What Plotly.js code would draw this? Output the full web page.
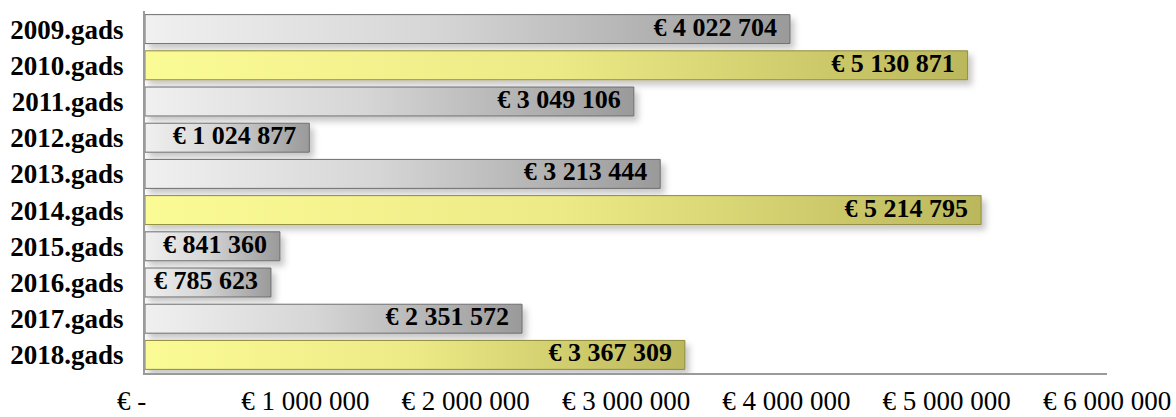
<!DOCTYPE html>
<html>
<head>
<meta charset="utf-8">
<script src="https://cdn.plot.ly/plotly-3.0.1.min.js"></script>
<style>
html,body{margin:0;padding:0;background:#fff;}
#chart{width:1176px;height:417px;}
</style>
</head>
<body>
<div id="chart"></div>
<script>
const years = ["2009.gads","2010.gads","2011.gads","2012.gads","2013.gads","2014.gads","2015.gads","2016.gads","2017.gads","2018.gads"];
const amounts = [4022704, 5130871, 3049106, 1024877, 3213444, 5214795, 841360, 785623, 2351572, 3367309];
const highlighted = [false, true, false, false, false, true, false, false, false, true];
const tickValues = [0, 1000000, 2000000, 3000000, 4000000, 5000000, 6000000];
const tickLabels = ["€ -\u00a0\u00a0\u00a0\u00a0", "€ 1 000 000", "€ 2 000 000", "€ 3 000 000", "€ 4 000 000", "€ 5 000 000", "€ 6 000 000"];

const SERIF = '"Liberation Serif", "Times New Roman", Times, serif';
function fmt(v){ return "€ " + String(v).replace(/\B(?=(\d{3})+(?!\d))/g, " ") + "\u00a0\u00a0"; }

const bars = {
  type: "bar",
  orientation: "h",
  y: years,
  x: amounts,
  marker: {
    color: highlighted.map(h => h ? "#e6e47a" : "#c4c4c4"),
    line: {color: highlighted.map(h => h ? "#8f8b3a" : "#6e6e6e"), width: 1}
  },
  hoverinfo: "none"
};

const labels = {
  type: "scatter",
  mode: "text",
  y: years,
  x: amounts,
  text: amounts.map(fmt),
  textposition: "middle left",
  textfont: {family: SERIF, size: 26, color: "#000", weight: "bold"},
  cliponaxis: false,
  hoverinfo: "none"
};

const layout = {
  width: 1176, height: 417,
  margin: {l: 145, r: 69, t: 11, b: 44},
  paper_bgcolor: "#fff", plot_bgcolor: "#fff",
  bargap: 0.2,
  showlegend: false,
  xaxis: {
    range: [0, 6000000],
    tickvals: tickValues, ticktext: tickLabels,
    showgrid: false, zeroline: false,
    showline: true, linecolor: "#9a9a9a", linewidth: 2,
    ticks: "", ticklabelstandoff: 3,
    tickfont: {family: SERIF, size: 27, color: "#000"}
  },
  yaxis: {
    autorange: "reversed",
    showgrid: false, zeroline: false,
    showline: true, linecolor: "#9a9a9a", linewidth: 2,
    ticks: "", ticklabelstandoff: 14,
    tickfont: {family: SERIF, size: 27, color: "#000", weight: "bold"}
  }
};

Plotly.newPlot("chart", [bars, labels], layout, {displayModeBar: false, staticPlot: true}).then(function(gd){
  const svg = gd.querySelector("svg.main-svg");
  const ns = "http://www.w3.org/2000/svg";
  let defs = svg.querySelector("defs");
  if (!defs) { defs = document.createElementNS(ns, "defs"); svg.insertBefore(defs, svg.firstChild); }
  function grad(id, stops){
    const g = document.createElementNS(ns, "linearGradient");
    g.setAttribute("id", id);
    g.setAttribute("x1", "0"); g.setAttribute("y1", "0"); g.setAttribute("x2", "1"); g.setAttribute("y2", "0");
    stops.forEach(s => {
      const st = document.createElementNS(ns, "stop");
      st.setAttribute("offset", s[0]); st.setAttribute("stop-color", s[1]);
      g.appendChild(st);
    });
    defs.appendChild(g);
  }
  grad("gGrey", [["0", "#f0f0f0"], ["0.45", "#d6d6d6"], ["1", "#9a9a9a"]]);
  grad("gYel", [["0", "#fbfb96"], ["0.5", "#ecea86"], ["1", "#bbb75c"]]);
  const f = document.createElementNS(ns, "filter");
  f.setAttribute("id", "shadow");
  f.setAttribute("x", "-5%"); f.setAttribute("y", "-30%"); f.setAttribute("width", "115%"); f.setAttribute("height", "180%");
  f.innerHTML = '<feDropShadow dx="4" dy="5" stdDeviation="3" flood-color="#000" flood-opacity="0.22"/>';
  defs.appendChild(f);
  const paths = gd.querySelectorAll(".barlayer .point path");
  paths.forEach((p, i) => {
    p.style.fill = highlighted[i] ? "url(#gYel)" : "url(#gGrey)";
    p.setAttribute("filter", "url(#shadow)");
  });
});
</script>
</body>
</html>
